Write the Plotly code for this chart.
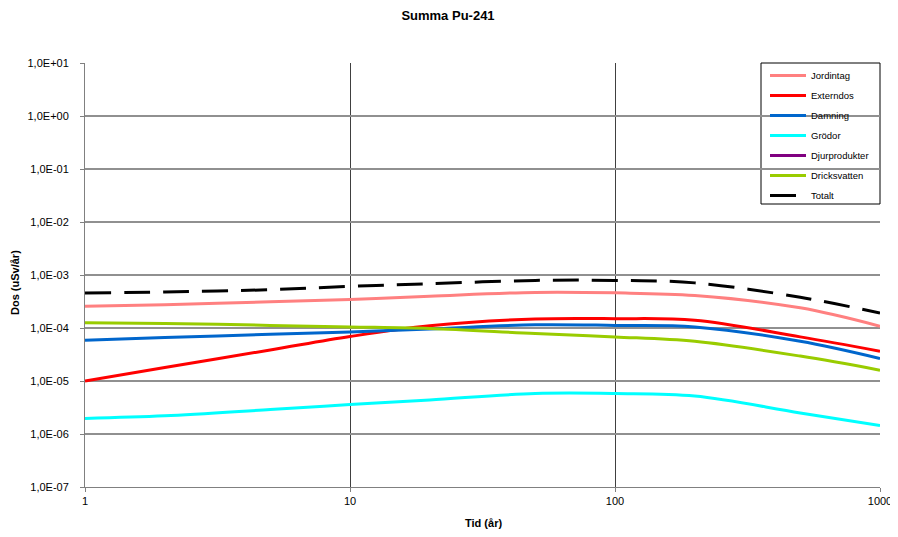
import plotly.graph_objects as go

tid = [1, 2, 5, 10, 20, 50, 100, 200, 500, 1000]
jordintag = [2.57e-4, 2.75e-4, 3.12e-4, 3.45e-4, 3.97e-4, 4.7e-4, 4.6e-4, 4.1e-4, 2.4e-4, 1.08e-4]
externdos = [1.0e-5, 1.8e-5, 3.85e-5, 6.9e-5, 1.1e-4, 1.48e-4, 1.5e-4, 1.4e-4, 6.8e-5, 3.65e-5]
damning = [5.9e-5, 6.6e-5, 7.6e-5, 8.4e-5, 9.6e-5, 1.15e-4, 1.12e-4, 1.05e-4, 5.6e-5, 2.65e-5]
grodor = [1.97e-6, 2.2e-6, 2.9e-6, 3.6e-6, 4.4e-6, 5.8e-6, 5.8e-6, 5.2e-6, 2.5e-6, 1.45e-6]
djurprodukter = [5e-9, 5e-9, 5e-9, 5e-9, 5e-9, 5e-9, 5e-9, 5e-9, 5e-9, 5e-9]
dricksvatten = [1.26e-4, 1.22e-4, 1.12e-4, 1.05e-4, 9.8e-5, 7.85e-5, 6.8e-5, 5.6e-5, 2.95e-5, 1.6e-5]
totalt = [4.58e-4, 4.78e-4, 5.28e-4, 6.1e-4, 6.85e-4, 7.9e-4, 7.9e-4, 7.1e-4, 3.8e-4, 1.92e-4]

y_tickvals = [1e1, 1e0, 1e-1, 1e-2, 1e-3, 1e-4, 1e-5, 1e-6, 1e-7]
y_ticktext = ["1,0E+01", "1,0E+00", "1,0E-01", "1,0E-02", "1,0E-03",
              "1,0E-04", "1,0E-05", "1,0E-06", "1,0E-07"]
x_tickvals = [1, 10, 100, 1000]
x_ticktext = ["1", "10", "100", "1000"]

series = [
    ("Jordintag", jordintag, "#FF8080", "solid"),
    ("Externdos", externdos, "#FF0000", "solid"),
    ("Damning", damning, "#0066CC", "solid"),
    ("Grödor", grodor, "#00FFFF", "solid"),
    ("Djurprodukter", djurprodukter, "#800080", "solid"),
    ("Dricksvatten", dricksvatten, "#99CC00", "solid"),
    ("Totalt", totalt, "#000000", "26px,13px"),
]

# page body margin of the browser shifts the figure by 8px; compensate
OFF = 8
W, H = 898 - OFF, 537 - OFF
PL, PR, PT, PB = 85, 880, 63, 487   # plot area in screen pixels
L, T = PL - OFF, PT - OFF
R, B = W + OFF - PR, H + OFF - PB
pw, ph = PR - PL, PB - PT

def px_x(p):
    return (p - PL) / pw

def px_y(p):
    return (PB - p) / ph

fig = go.Figure()
for name, vals, color, dash in series:
    fig.add_trace(go.Scatter(
        x=tid, y=vals, name=name, mode="lines", legendgroup=name,
        line=dict(color=color, width=3, dash=dash, shape="spline", smoothing=1.0),
    ))

font = "Liberation Sans, Arial, sans-serif"
fig.update_layout(
    width=W, height=H,
    margin=dict(l=L, r=R, t=T, b=B, autoexpand=False),
    paper_bgcolor="white", plot_bgcolor="white",
    title=dict(text="<b>Summa Pu-241</b>", xref="container", yref="container",
               x=(448 - OFF) / W, xanchor="center",
               y=1 - (15 - OFF) / H, yanchor="middle",
               font=dict(family=font, size=13, color="black")),
    showlegend=True,
    legend=dict(x=px_x(765), y=px_y(61), xanchor="left", yanchor="top",
                bgcolor="rgba(0,0,0,0)", borderwidth=0,
                font=dict(family=font, size=9.5, color="black"),
                itemwidth=36, tracegroupgap=1),
    shapes=[dict(type="rect", xref="paper", yref="paper",
                 x0=px_x(761), x1=1, y0=px_y(204), y1=1,
                 line=dict(color="#000000", width=1), fillcolor="white", layer="below")],
    annotations=[
        dict(text="<b>Tid (år)</b>", xref="paper", yref="paper", x=px_x(483), y=px_y(523),
             xanchor="center", yanchor="middle", showarrow=False,
             font=dict(family=font, size=11, color="black")),
        dict(text="<b>Dos (uSv/år)</b>", xref="paper", yref="paper", x=px_x(15), y=px_y(283),
             xanchor="center", yanchor="middle", showarrow=False, textangle=-90,
             font=dict(family=font, size=11, color="black")),
    ],
    xaxis=dict(type="log", range=[0, 3], tickvals=x_tickvals, ticktext=x_ticktext,
               automargin=False,
               showgrid=True, gridcolor="#404040", gridwidth=1,
               showline=True, linecolor="#808080", linewidth=1,
               ticks="outside", ticklen=4, tickcolor="#808080",
               tickfont=dict(family=font, size=11, color="black"),
               zeroline=False),
    yaxis=dict(type="log", range=[-7, 1], tickvals=y_tickvals, ticktext=y_ticktext,
               automargin=False,
               showgrid=True, gridcolor="#909090", gridwidth=1.5,
               showline=True, linecolor="#808080", linewidth=1,
               ticks="outside", ticklen=4, tickcolor="#808080",
               ticklabelstandoff=9,
               tickfont=dict(family=font, size=11, color="black"),
               zeroline=False),
)

fig.write_html("out.html")
